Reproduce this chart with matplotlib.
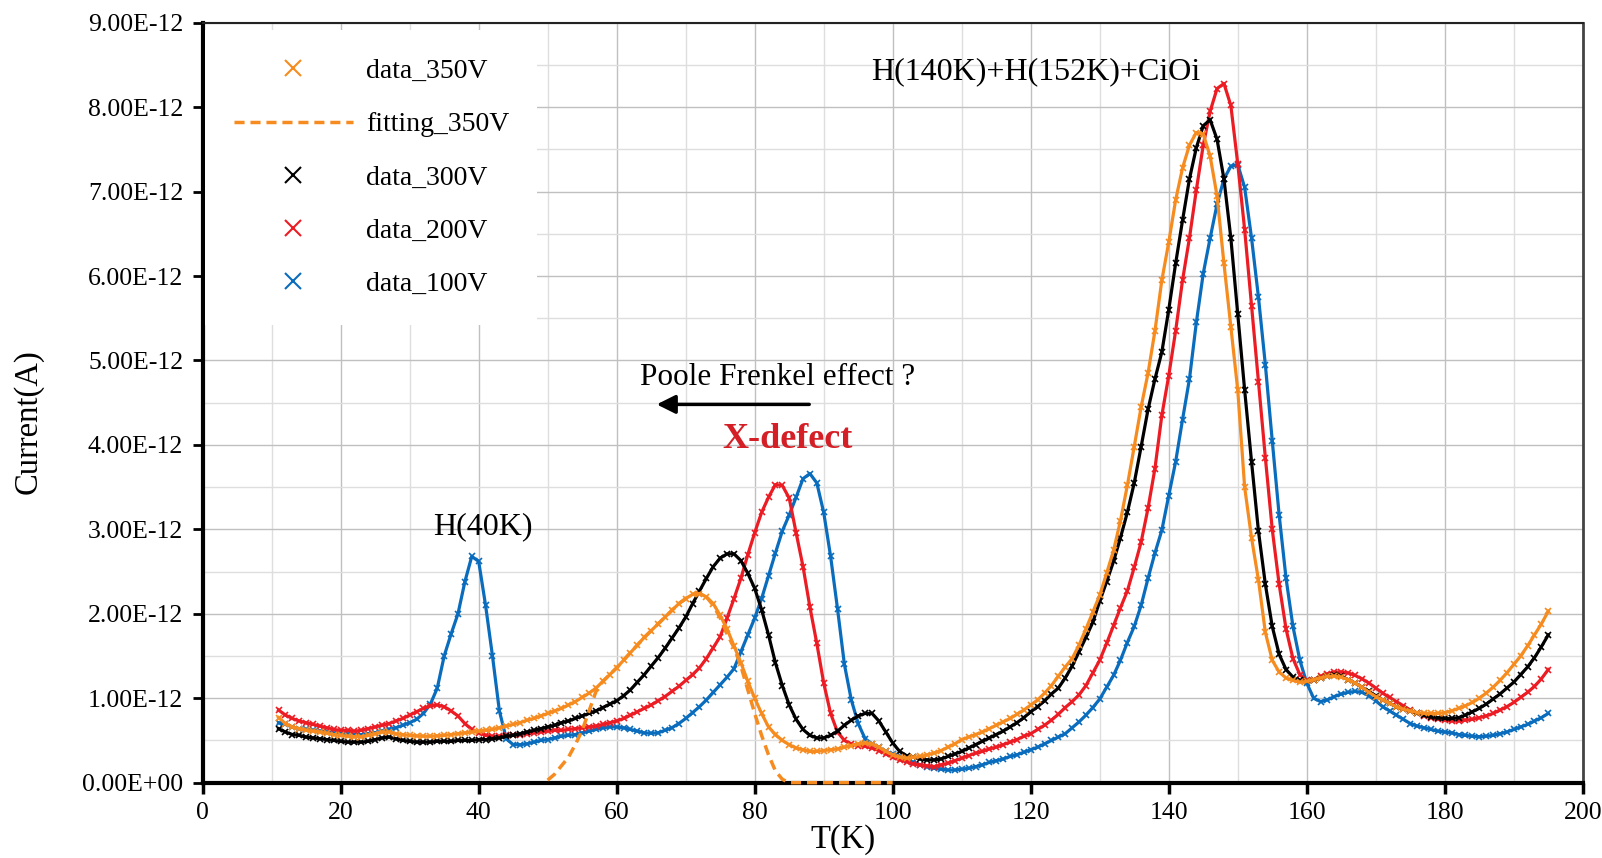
import matplotlib
matplotlib.use("Agg")
import matplotlib.pyplot as plt
from matplotlib.lines import Line2D
from matplotlib.ticker import MultipleLocator, FuncFormatter

plt.rcParams['font.family'] = ['Liberation Serif', 'DejaVu Serif']

# temperature grid of the measured points (K)
temps = list(range(11, 196))

# currents in units of 1e-12 A, one value per K from 11 K
cur_100V = [
    0.71, 0.69, 0.66, 0.64, 0.63, 0.62, 0.61, 0.60, 0.59, 0.58,
    0.58, 0.57, 0.57, 0.58, 0.59, 0.61, 0.63, 0.65, 0.68, 0.71,
    0.75, 0.82, 0.93, 1.12, 1.50, 1.76, 2.00, 2.38, 2.68, 2.62,
    2.10, 1.50, 0.85, 0.52, 0.45, 0.45, 0.46, 0.48, 0.50, 0.51,
    0.53, 0.55, 0.56, 0.57, 0.59, 0.61, 0.63, 0.65, 0.66, 0.66,
    0.65, 0.63, 0.61, 0.59, 0.585, 0.59, 0.62, 0.65, 0.70, 0.76,
    0.83, 0.90, 0.98, 1.07, 1.16, 1.25, 1.35, 1.55, 1.75, 1.95,
    2.18, 2.45, 2.72, 2.98, 3.17, 3.38, 3.60, 3.66, 3.55, 3.20,
    2.68, 2.06, 1.40, 0.98, 0.70, 0.52, 0.46, 0.42, 0.37, 0.34,
    0.31, 0.27, 0.24, 0.21, 0.19, 0.17, 0.16, 0.15, 0.15, 0.16,
    0.17, 0.19, 0.21, 0.24, 0.26, 0.28, 0.31, 0.33, 0.36, 0.39,
    0.42, 0.46, 0.50, 0.54, 0.58, 0.65, 0.72, 0.80, 0.89, 0.99,
    1.13, 1.27, 1.45, 1.66, 1.85, 2.10, 2.42, 2.72, 2.99, 3.40,
    3.80, 4.30, 4.78, 5.45, 6.03, 6.45, 6.85, 7.15, 7.30, 7.32,
    7.05, 6.45, 5.75, 4.95, 4.05, 3.17, 2.42, 1.85, 1.45, 1.18,
    1.00, 0.96, 0.98, 1.02, 1.05, 1.07, 1.08, 1.07, 1.03, 0.97,
    0.90, 0.85, 0.80, 0.75, 0.70, 0.67, 0.65, 0.63, 0.61, 0.60,
    0.59, 0.57, 0.56, 0.55, 0.545, 0.55, 0.56, 0.58, 0.60, 0.63,
    0.66, 0.69, 0.73, 0.77, 0.82,
]

cur_200V = [
    0.86, 0.80, 0.76, 0.73, 0.71, 0.69, 0.67, 0.65, 0.63, 0.62,
    0.62, 0.61, 0.62, 0.64, 0.66, 0.68, 0.70, 0.73, 0.76, 0.80,
    0.84, 0.88, 0.91, 0.92, 0.90, 0.85, 0.79, 0.70, 0.63, 0.59,
    0.56, 0.55, 0.55, 0.56, 0.56, 0.57, 0.58, 0.59, 0.60, 0.61,
    0.62, 0.62, 0.63, 0.64, 0.65, 0.66, 0.67, 0.69, 0.71, 0.73,
    0.76, 0.80, 0.84, 0.88, 0.92, 0.97, 1.02, 1.08, 1.14, 1.21,
    1.28, 1.36, 1.47, 1.60, 1.73, 1.95, 2.18, 2.42, 2.70, 2.96,
    3.20, 3.38, 3.53, 3.52, 3.37, 2.96, 2.56, 2.08, 1.65, 1.18,
    0.82, 0.60, 0.50, 0.46, 0.44, 0.43, 0.41, 0.38, 0.34, 0.30,
    0.27, 0.25, 0.22, 0.21, 0.20, 0.19, 0.21, 0.23, 0.26, 0.29,
    0.32, 0.35, 0.37, 0.40, 0.42, 0.45, 0.48, 0.51, 0.55, 0.58,
    0.63, 0.68, 0.74, 0.81, 0.89, 0.96, 1.04, 1.15, 1.30, 1.45,
    1.65, 1.86, 2.07, 2.27, 2.55, 2.85, 3.25, 3.72, 4.35, 4.82,
    5.35, 5.95, 6.45, 7.02, 7.55, 7.95, 8.22, 8.28, 8.02, 7.33,
    6.55, 5.65, 4.75, 3.85, 3.00, 2.35, 1.82, 1.47, 1.28, 1.21,
    1.22, 1.26, 1.29, 1.31, 1.31, 1.30, 1.27, 1.23, 1.18, 1.12,
    1.06, 1.01, 0.96, 0.91, 0.86, 0.82, 0.79, 0.77, 0.75, 0.74,
    0.73, 0.73, 0.74, 0.75, 0.77, 0.79, 0.82, 0.86, 0.90, 0.95,
    1.01, 1.07, 1.14, 1.23, 1.34,
]

cur_300V = [
    0.64, 0.60, 0.57, 0.56, 0.54, 0.53, 0.52, 0.51, 0.50, 0.49,
    0.48, 0.48, 0.48, 0.49, 0.51, 0.53, 0.54, 0.52, 0.50, 0.49,
    0.48, 0.48, 0.48, 0.49, 0.49, 0.49, 0.50, 0.50, 0.50, 0.51,
    0.51, 0.52, 0.53, 0.55, 0.56, 0.58, 0.60, 0.62, 0.64, 0.66,
    0.68, 0.71, 0.73, 0.76, 0.79, 0.82, 0.85, 0.89, 0.93, 0.97,
    1.03, 1.10, 1.19, 1.28, 1.38, 1.48, 1.59, 1.71, 1.83, 1.96,
    2.12, 2.27, 2.42, 2.56, 2.66, 2.71, 2.71, 2.63, 2.48, 2.30,
    2.05, 1.75, 1.42, 1.15, 0.92, 0.75, 0.63, 0.56, 0.53, 0.53,
    0.56, 0.61, 0.68, 0.74, 0.79, 0.82, 0.82, 0.73, 0.60, 0.47,
    0.37, 0.32, 0.30, 0.28, 0.27, 0.27, 0.28, 0.31, 0.34, 0.37,
    0.41, 0.45, 0.49, 0.53, 0.57, 0.61, 0.66, 0.71, 0.77, 0.84,
    0.90, 0.97, 1.05, 1.12, 1.24, 1.38, 1.55, 1.72, 1.90, 2.15,
    2.38, 2.62, 2.90, 3.20, 3.55, 3.98, 4.42, 4.78, 5.10, 5.60,
    6.15, 6.66, 7.15, 7.52, 7.78, 7.85, 7.62, 7.15, 6.45, 5.55,
    4.65, 3.80, 2.98, 2.35, 1.85, 1.52, 1.34, 1.25, 1.21, 1.20,
    1.22, 1.24, 1.26, 1.28, 1.26, 1.22, 1.18, 1.13, 1.08, 1.03,
    0.98, 0.94, 0.90, 0.87, 0.85, 0.82, 0.80, 0.78, 0.77, 0.76,
    0.76, 0.77, 0.80, 0.84, 0.88, 0.93, 0.99, 1.05, 1.12, 1.19,
    1.28, 1.37, 1.48, 1.61, 1.75,
]

cur_350V = [
    0.77, 0.70, 0.66, 0.64, 0.62, 0.61, 0.60, 0.585, 0.57, 0.56,
    0.55, 0.545, 0.545, 0.56, 0.58, 0.60, 0.60, 0.58, 0.57, 0.56,
    0.555, 0.55, 0.55, 0.555, 0.56, 0.57, 0.58, 0.59, 0.60, 0.61,
    0.62, 0.63, 0.65, 0.67, 0.69, 0.71, 0.74, 0.76, 0.79, 0.82,
    0.85, 0.88, 0.92, 0.96, 1.01, 1.06, 1.12, 1.20, 1.28, 1.36,
    1.45, 1.54, 1.63, 1.72, 1.80, 1.88, 1.96, 2.04, 2.12, 2.18,
    2.23, 2.24, 2.20, 2.12, 1.98, 1.82, 1.62, 1.42, 1.20, 1.00,
    0.82, 0.66, 0.57, 0.50, 0.45, 0.41, 0.39, 0.37, 0.37, 0.38,
    0.39, 0.40, 0.42, 0.44, 0.46, 0.47, 0.46, 0.42, 0.37, 0.33,
    0.30, 0.29, 0.30, 0.31, 0.33, 0.35, 0.38, 0.42, 0.46, 0.51,
    0.54, 0.57, 0.60, 0.64, 0.68, 0.72, 0.76, 0.81, 0.86, 0.92,
    0.98, 1.06, 1.15, 1.26, 1.37, 1.47, 1.63, 1.82, 2.02, 2.22,
    2.48, 2.75, 3.10, 3.52, 3.98, 4.45, 4.85, 5.35, 5.95, 6.40,
    6.90, 7.28, 7.55, 7.70, 7.68, 7.42, 6.95, 6.15, 5.40, 4.65,
    3.50, 2.90, 2.40, 1.78, 1.45, 1.31, 1.24, 1.21, 1.19, 1.20,
    1.22, 1.24, 1.26, 1.26, 1.25, 1.22, 1.18, 1.13, 1.07, 1.02,
    0.98, 0.94, 0.90, 0.87, 0.85, 0.83, 0.82, 0.82, 0.82, 0.83,
    0.85, 0.88, 0.91, 0.95, 1.00, 1.06, 1.13, 1.21, 1.30, 1.40,
    1.50, 1.62, 1.75, 1.88, 2.03,
]

# fitted X-defect peak for 350V
fit_temps = list(range(50, 101))
fit_350V = [
    0.03, 0.10, 0.20, 0.30, 0.45, 0.62, 0.85, 1.08, 1.20, 1.28,
    1.36, 1.45, 1.54, 1.63, 1.72, 1.80, 1.88, 1.96, 2.04, 2.12,
    2.18, 2.23, 2.24, 2.20, 2.10, 1.95, 1.76, 1.60, 1.38, 1.10,
    0.82, 0.56, 0.33, 0.14, 0.04, 0.0, 0.0, 0.0, 0.0, 0.0,
    0.0, 0.0, 0.0, 0.0, 0.0, 0.0, 0.0, 0.0, 0.0, 0.0, 0.0,
]

x_ticks = [0, 20, 40, 60, 80, 100, 120, 140, 160, 180, 200]
y_ticks = [0, 1, 2, 3, 4, 5, 6, 7, 8, 9]  # x 1e-12 A

ORANGE = '#F68B1F'
RED = '#EC1C24'
BLUE = '#0A6CBD'
BLACK = '#000000'

series = [
    ("data_100V", cur_100V, BLUE),
    ("data_200V", cur_200V, RED),
    ("data_300V", cur_300V, BLACK),
    ("data_350V", cur_350V, ORANGE),
]

fig = plt.figure(figsize=(16.02, 8.58), dpi=100)
ax = fig.add_axes([0.1265, 0.0878, 0.8615, 0.8857])

for name, vals, col in series:
    ax.plot(temps, [v * 1e-12 for v in vals], color=col, lw=2.3,
            marker='x', ms=4, mew=1.2, zorder=3)

ax.plot(fit_temps, [v * 1e-12 for v in fit_350V], color=ORANGE, lw=2.5,
        dashes=(2.9, 1.7), zorder=6, clip_on=False)

ax.set_xlim(0, 200)
ax.set_ylim(0, 9e-12)
ax.set_xticks(x_ticks)
ax.set_yticks([v * 1e-12 for v in y_ticks])
ax.xaxis.set_minor_locator(MultipleLocator(10))
ax.yaxis.set_minor_locator(MultipleLocator(0.5e-12))
ax.yaxis.set_major_formatter(FuncFormatter(lambda v, p: f"{v:.2E}"))

ax.set_axisbelow(True)
ax.grid(which='major', color='#c0c0c0', lw=1.0)
ax.grid(which='minor', color='#dedede', lw=1.0)

for side in ['left', 'bottom']:
    ax.spines[side].set_linewidth(3)
    ax.spines[side].set_color('black')
ax.spines['top'].set_linewidth(1.5)
ax.spines['top'].set_color('#222222')
ax.spines['right'].set_linewidth(2)
ax.spines['right'].set_color('#444444')

ax.tick_params(axis='x', which='major', direction='out', length=8, width=2.5,
               labelsize=18.5, pad=6)
ax.tick_params(axis='y', which='major', direction='out', length=7, width=2,
               labelsize=18.5, pad=7)
ax.tick_params(which='minor', length=0)

fig.text(0.0179, 0.509, "Current(A)", rotation=90, fontsize=23.5,
         ha='center', va='center')
fig.text(0.526, 0.021, "T(K)", fontsize=23.5, ha='center', va='center')

# annotations
ax.text(40.6, 3.03e-12, "H(40K)", fontsize=23, ha='center', va='center')
ax.text(120.7, 8.42e-12, "H(140K)+H(152K)+CiOi", fontsize=23,
        ha='center', va='center')
ax.text(83.3, 4.80e-12, "Poole Frenkel effect ?", fontsize=22.5,
        ha='center', va='center')
ax.text(84.8, 4.07e-12, "X-defect", fontsize=26, fontweight='bold',
        color='#D41F26', ha='center', va='center')
ax.annotate('', xy=(65.8, 4.48e-12), xytext=(87.9, 4.48e-12),
            arrowprops=dict(arrowstyle='-|>', lw=2.5, color='black',
                            mutation_scale=28, shrinkA=0, shrinkB=0))

handles = [
    Line2D([], [], ls='none', marker='x', color=ORANGE, ms=11, mew=1.5),
    Line2D([], [], color=ORANGE, lw=2.5, dashes=(2.9, 1.7)),
    Line2D([], [], ls='none', marker='x', color=BLACK, ms=11, mew=1.5),
    Line2D([], [], ls='none', marker='x', color=RED, ms=11, mew=1.5),
    Line2D([], [], ls='none', marker='x', color=BLUE, ms=11, mew=1.5),
]
labels = ["data_350V", "fitting_350V", "data_300V", "data_200V", "data_100V"]
leg = ax.legend(handles, labels, loc='upper left', bbox_to_anchor=(0.002, 0.99),
                borderaxespad=0, borderpad=1.02, fontsize=20, handlelength=4.3,
                handletextpad=0.45, labelspacing=1.0, frameon=True,
                fancybox=False, framealpha=1)
leg.get_frame().set_facecolor('white')
leg.get_frame().set_edgecolor('none')
leg.set_zorder(10)

fig.savefig("out.png", dpi=100)
